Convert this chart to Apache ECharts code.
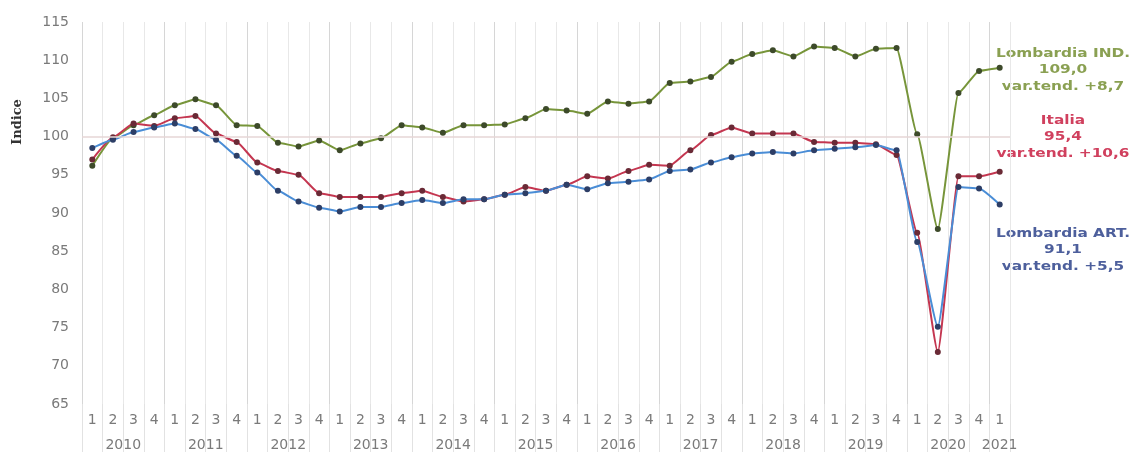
<!DOCTYPE html>
<html>
<head>
<meta charset="utf-8">
<script src="https://cdn.jsdelivr.net/npm/echarts@6/dist/echarts.min.js"></script>
<style>
  html, body { margin: 0; padding: 0; background: #fff; }
  #chart { width: 1132px; height: 452px; }
</style>
</head>
<body>
<div id="chart"></div>
<script>
// anni e trimestri (2010 T1 - 2021 T1)
var anni = ['2010','2011','2012','2013','2014','2015','2016','2017','2018','2019','2020','2021'];
var trimestri = ['1','2','3','4'];

// indici
var lombardiaInd = [96.2, 99.8, 101.5, 102.8, 104.1, 104.9, 104.1, 101.5, 101.4, 99.2, 98.7, 99.5,
    98.2, 99.1, 99.8, 101.5, 101.2, 100.5, 101.5, 101.5, 101.6, 102.4, 103.6, 103.4,
    103.0, 104.6, 104.3, 104.6, 107.0, 107.2, 107.8, 109.8, 110.8, 111.3, 110.5, 111.8,
    111.6, 110.5, 111.5, 111.6, 100.3, 87.9, 105.7, 108.6, 109.0];
var italia = [97.0, 99.9, 101.7, 101.4, 102.4, 102.7, 100.4, 99.3, 96.6, 95.5, 95.0, 92.6,
    92.1, 92.1, 92.1, 92.6, 92.9, 92.1, 91.5, 91.8, 92.4, 93.4, 92.9, 93.7,
    94.8, 94.5, 95.5, 96.3, 96.2, 98.2, 100.2, 101.2, 100.4, 100.4, 100.4, 99.3,
    99.2, 99.2, 99.0, 97.6, 87.4, 71.8, 94.8, 94.8, 95.4];
var lombardiaArt = [98.5, 99.6, 100.6, 101.2, 101.7, 101.0, 99.6, 97.5, 95.3, 92.9, 91.5, 90.7,
    90.2, 90.8, 90.8, 91.3, 91.7, 91.3, 91.8, 91.8, 92.4, 92.6, 92.9, 93.7,
    93.1, 93.9, 94.1, 94.4, 95.5, 95.7, 96.6, 97.3, 97.8, 98.0, 97.8, 98.2,
    98.4, 98.6, 98.9, 98.2, 86.2, 75.1, 93.4, 93.2, 91.1];

var etichette = [
    ['Lombardia IND.', '109,0', 'var.tend. +8,7'],
    ['Italia', '95,4', 'var.tend. +10,6'],
    ['Lombardia ART.', '91,1', 'var.tend. +5,5']
];

// categorie trimestrali
var categorie = [];
for (var i = 0; i < lombardiaInd.length; i++) {
    categorie.push(trimestri[i % 4]);
}
// asse degli anni: mezzi trimestri, etichetta al centro di ogni anno
var nAnni = [];
for (var j = 0; j <= categorie.length * 2; j++) nAnni.push('');
for (var k = 0; k < anni.length; k++) {
    var fine = Math.min((k + 1) * 8, categorie.length * 2);
    nAnni[(k * 8 + fine) / 2] = anni[k];
}

var myChart = echarts.init(document.getElementById('chart'));

function serie(nome, dati, colore, colPunto) {
    return {
        name: nome,
        type: 'line',
        data: dati,
        smooth: 0.15,
        smoothMonotone: 'x',
        symbol: 'circle',
        symbolSize: 6,
        lineStyle: { color: colore, width: 2 },
        itemStyle: { color: colPunto },
        z: 3
    };
}

var serieList = [
    serie('Lombardia IND.', lombardiaInd, '#77953a', '#3d4a2a'),
    serie('Italia', italia, '#c43650', '#6a2a36'),
    serie('Lombardia ART.', lombardiaArt, '#4a8dd6', '#2d3e66')
];
serieList[0].markLine = {
    silent: true,
    symbol: 'none',
    label: { show: false },
    lineStyle: { color: '#e6d6d6', type: 'solid', width: 1.5 },
    data: [{ yAxis: 100 }]
};

var colTesto = ['#8aa052', '#d0405e', '#4d5f9c'];
var yTesto = [53, 120, 233];
var grafica = [];
etichette.forEach(function (e, n) {
    grafica.push({
        type: 'text',
        x: 1063,
        y: yTesto[n] - 8,
        scaleX: 1.18,
        style: {
            text: e.join('\n'),
            fill: colTesto[n],
            font: 'bold 13px "DejaVu Sans"',
            textAlign: 'center',
            lineHeight: 16.5
        }
    });
});
// titolo asse verticale
grafica.push({
    type: 'text',
    x: 18,
    y: 122,
    rotation: Math.PI / 2,
    style: {
        text: 'Indice',
        fill: '#333',
        font: 'bold 13px "DejaVu Serif"',
        textAlign: 'center',
        textVerticalAlign: 'middle'
    }
});

var stileEtichetta = { color: '#7a7a7a', fontSize: 14, fontFamily: 'DejaVu Sans' };

option = {
    animation: false,
    grid: { left: 82, right: 122, top: 22, bottom: 48 },
    xAxis: [{
        type: 'category',
        data: categorie,
        boundaryGap: true,
        axisLine: { show: false },
        axisTick: { show: true, length: 48, interval: 0, lineStyle: { color: '#e2e2e2' } },
        axisLabel: Object.assign({ interval: 0, margin: 9 }, stileEtichetta),
        splitLine: { show: true, interval: 0, lineStyle: { color: ['#d6d6d6', '#e8e8e8', '#e8e8e8', '#e8e8e8'] } }
    }, {
        type: 'category',
        data: nAnni,
        boundaryGap: false,
        position: 'bottom',
        offset: 25,
        axisLine: { show: false },
        axisTick: { show: false },
        axisLabel: Object.assign({ interval: 0, margin: 9 }, stileEtichetta),
        splitLine: { show: false }
    }],
    yAxis: {
        type: 'value',
        min: 65,
        max: 115,
        interval: 5,
        axisLine: { show: false },
        axisTick: { show: false },
        splitLine: { show: false },
        axisLabel: Object.assign({ margin: 13 }, stileEtichetta)
    },
    series: serieList,
    graphic: grafica
};
myChart.setOption(option);
</script>
</body>
</html>
